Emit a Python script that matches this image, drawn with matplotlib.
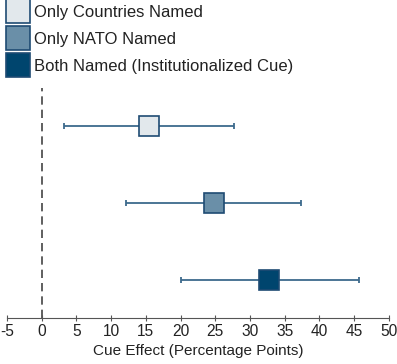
import matplotlib
matplotlib.use("Agg")
from matplotlib import pyplot as plt

plt.rcParams['font.family'] = ['Liberation Sans', 'DejaVu Sans']
plt.rcParams['axes.unicode_minus'] = False

''' Data '''
labels = ['Only Countries Named', 'Only NATO Named', 'Both Named (Institutionalized Cue)']
estimates = [15.5, 24.8, 32.8]
ci_low = [3.2, 12.1, 20.0]
ci_high = [27.7, 37.3, 45.7]
colors = ['#e2e8ec', '#6a8fa8', '#00456e']
edge = '#1f4b73'
bar_color = '#3d6a8c'
xticks = list(range(-5, 51, 5))

fig = plt.figure(figsize=(3.97, 3.64), dpi=100)
ax = fig.add_axes([0.0176, 0.126, 0.962, 0.632])

ypos = [3, 2, 1]
handles = []
for y, est, lo, hi, col, lab in zip(ypos, estimates, ci_low, ci_high, colors, labels):
    ax.errorbar(est, y, xerr=[[est - lo], [hi - est]], fmt='none',
                ecolor=bar_color, elinewidth=1.3, capsize=2.5, capthick=1.3, zorder=2)
    h, = ax.plot([est], [y], marker='s', markersize=15, markerfacecolor=col,
                 markeredgecolor=edge, markeredgewidth=1.2, linestyle='none',
                 label=lab, zorder=3)
    handles.append(h)

ax.axvline(0, color='#444444', linestyle=(0, (5, 3)), linewidth=1.2, zorder=1)

ax.set_xlim(-5, 50)
ax.set_ylim(0.5, 3.5)
ax.set_xticks(xticks)
ax.set_yticks([])
for s in ['left', 'top', 'right']:
    ax.spines[s].set_visible(False)
ax.spines['bottom'].set_color('#555555')
ax.tick_params(axis='x', direction='inout', length=5, color='#555555',
               labelsize=11.2, pad=2, labelcolor='#222222')
ax.set_xlabel('Cue Effect (Percentage Points)', fontsize=11, color='#222222', labelpad=3)

leg = fig.legend(handles=handles, loc='upper left', bbox_to_anchor=(0.0, 1.014),
                 frameon=False, fontsize=12, handlelength=1.0, handletextpad=0.45,
                 labelspacing=0.72, borderaxespad=0.2, markerscale=1.15)
for t in leg.get_texts():
    t.set_color('#222222')

fig.savefig('out.png', dpi=100)
